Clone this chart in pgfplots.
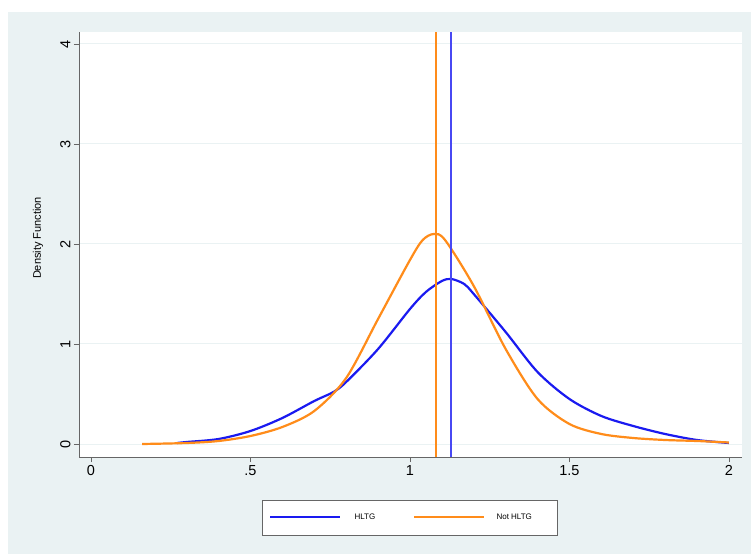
\documentclass[border=0pt]{standalone}
\usepackage{pgfplots}
\pgfplotsset{compat=1.18}
\usepackage{fontspec}
\setmainfont{Liberation Sans}
\definecolor{bgc}{HTML}{EAF2F3}
\definecolor{hblue}{HTML}{1A1AF0}
\definecolor{orng}{HTML}{FF8C1A}
\begin{document}
\begin{tikzpicture}[x=1pt,y=1pt]
\fill[white] (0,0) rectangle (751,554);
\fill[bgc] (8,0) rectangle (751,542);
\fill[white] (79,97) rectangle (742,522);
\begin{axis}[at={(79pt,97pt)},anchor=south west,scale only axis,width=663pt,height=425pt,
  xmin=-0.0376,xmax=2.041,ymin=-0.13,ymax=4.12,
  axis x line*=bottom, axis y line*=left, axis line style={gray!80!black,line width=1pt,-},
  xtick={0,0.5,1,1.5,2}, xticklabels={0,.5,1,1.5,2},
  ytick={0,1,2,3,4}, tick align=outside, tick style={gray!80!black,line width=0.8pt},
  major tick length=5pt,
  ymajorgrids, grid style={bgc,line width=1pt},
  yticklabel style={rotate=90,anchor=south},
  ticklabel style={font=\fontsize{14.5}{14.5}\selectfont},
  /pgf/number format/assume math mode=true,
  clip=false]
\addplot[hblue,line width=2.2pt,smooth] coordinates {(0.27,0.01)(0.3,0.02)(0.4,0.05)(0.5,0.13)(0.6,0.26)(0.7,0.43)(0.76,0.52)(0.8,0.62)(0.9,0.95)(1.0,1.35)(1.05,1.52)(1.1,1.63)(1.13,1.65)(1.17,1.6)(1.2,1.5)(1.3,1.12)(1.4,0.72)(1.5,0.45)(1.6,0.28)(1.7,0.18)(1.8,0.1)(1.9,0.04)(2.0,0.01)};
\addplot[orng,line width=2.2pt,smooth] coordinates {(0.16,0)(0.3,0.01)(0.4,0.03)(0.5,0.08)(0.6,0.17)(0.7,0.33)(0.8,0.66)(0.9,1.25)(1.0,1.84)(1.04,2.04)(1.075,2.1)(1.11,2.04)(1.2,1.58)(1.3,0.95)(1.4,0.45)(1.5,0.2)(1.6,0.1)(1.7,0.06)(1.8,0.04)(1.9,0.03)(2.0,0.015)};
\addplot[draw=orng,line width=1.6pt] coordinates {(1.081,-0.13)(1.081,4.12)};
\addplot[draw=hblue!80!white,line width=1.6pt] coordinates {(1.128,-0.13)(1.128,4.12)};
\end{axis}
\node[rotate=90,font=\fontsize{11}{11}\selectfont] at (38,316) {Density Function};
\draw[gray!80!black,line width=1pt,fill=white] (262,19) rectangle (557,54);
\draw[hblue,line width=2pt] (270,37) -- (340,37);
\node[anchor=west,font=\fontsize{8}{8}\selectfont] at (351,37) {HLTG};
\draw[orng,line width=2pt] (414,37) -- (484,37);
\node[anchor=west,font=\fontsize{8}{8}\selectfont] at (493,37) {Not HLTG};
\end{tikzpicture}
\end{document}
